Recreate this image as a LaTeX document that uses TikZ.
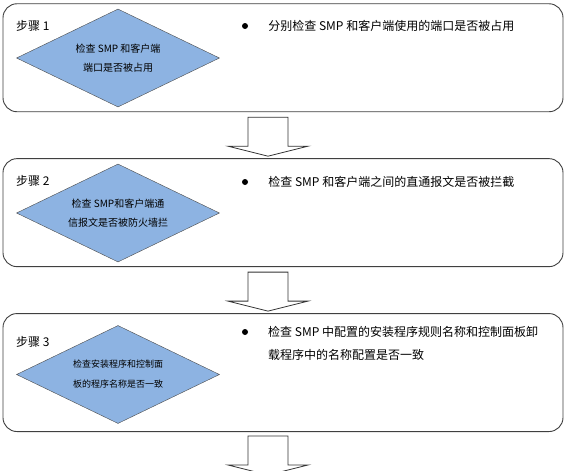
\documentclass[tikz,border=0pt]{standalone}
\usepackage{fontspec}
\setmainfont{Noto Sans CJK SC}
\usetikzlibrary{shapes.geometric, positioning}
\definecolor{diafill}{RGB}{141,179,226}
\tikzset{
    stepbox/.style={rectangle, rounded corners=14pt, minimum width=560pt, minimum height=108pt, draw=black!75, fill=white, line width=0.9pt},
    check/.style={diamond, shape aspect=2, inner sep=0pt, minimum width=203pt, minimum height=98pt, align=center, draw=black!70, fill=diafill, font=\fontsize{10}{19.5}\selectfont},
    steplabel/.style={anchor=west, inner sep=0pt, font=\fontsize{12}{14}\selectfont},
    bulletdot/.style={circle, fill=black, inner sep=0pt, minimum size=6pt},
    itemtext/.style={anchor=west, inner sep=0pt, align=left, font=\fontsize{12}{23}\selectfont},
    blockarrow/.style={draw=black!80, fill=white, line width=0.8pt}
}
\begin{document}
\begin{tikzpicture}[x=1pt, y=-1pt, node distance=46pt]
    \useasboundingbox (0,0) rectangle (576,471);
    \node (step1) [stepbox] at (283,57.75) {};
    \node (step2) [stepbox, below=of step1] {};
    \node (step3) [stepbox, below=of step2, minimum height=118pt] {};

    \node (lab1) [steplabel] at (16,26) {步骤 1};
    \node (lab2) [steplabel] at (16,181) {步骤 2};
    \node (lab3) [steplabel] at (16,342) {步骤 3};

    \node (chk1) [check] at (118,58) {检查 SMP 和客户端\\端口是否被占用};
    \node (chk2) [check] at (118,213) {检查 SMP和客户端通\\信报文是否被防火墙拦};
    \node (chk3) [check, font=\fontsize{9}{20}\selectfont] at (118,374.5) {检查安装程序和控制面\\板的程序名称是否一致};

    \node (b1) [bulletdot] at (245,26) {};
    \node (t1) [itemtext, right=20pt of b1] {分别检查 SMP 和客户端使用的端口是否被占用};
    \node (b2) [bulletdot] at (245,182) {};
    \node (t2) [itemtext, right=20pt of b2] {检查 SMP 和客户端之间的直通报文是否被拦截};
    \node (b3) [bulletdot] at (245,332) {};
    \node (t3) [itemtext] at (268,343.5) {检查 SMP 中配置的安装程序规则名称和控制面板卸\\载程序中的名称配置是否一致};

    \draw [blockarrow] ([xshift=-15pt, yshift=-5pt]step1.south) -- ++(-20,0) -- ++(0,29) -- ++(-20,0) -- ++(40,10) -- ++(40,-10) -- ++(-20,0) -- ++(0,-29) -- cycle;
    \draw [blockarrow] ([xshift=-15pt, yshift=-5pt]step2.south) -- ++(-20,0) -- ++(0,29) -- ++(-20,0) -- ++(40,10) -- ++(40,-10) -- ++(-20,0) -- ++(0,-29) -- cycle;
    \draw [blockarrow] ([xshift=-15pt, yshift=-4pt]step3.south) -- ++(-20,0) -- ++(0,29) -- ++(-20,0) -- ++(40,10) -- ++(40,-10) -- ++(-20,0) -- ++(0,-29) -- cycle;
\end{tikzpicture}
\end{document}
